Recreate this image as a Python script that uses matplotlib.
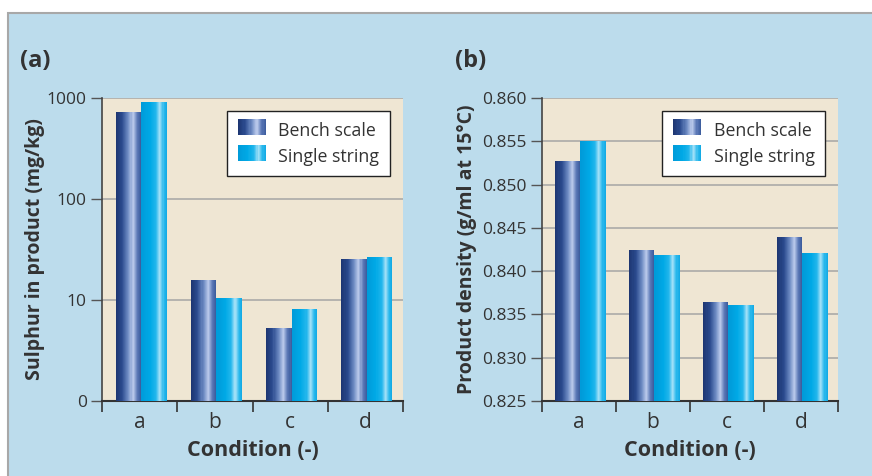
import numpy as np
import matplotlib
matplotlib.use("Agg")
import matplotlib.pyplot as plt
from matplotlib.patches import Rectangle
from matplotlib.legend_handler import HandlerBase
from matplotlib.colors import LinearSegmentedColormap

categories = ["a", "b", "c", "d"]
series_names = ["Bench scale", "Single string"]
sulphur_bench = [731, 15.9, 5.3, 25.5]
sulphur_single = [906, 10.4, 8.1, 26.7]
density_bench = [0.8527, 0.8424, 0.8364, 0.8439]
density_single = [0.8550, 0.8419, 0.8361, 0.8421]
sulphur_ticks = [1, 10, 100, 1000]
sulphur_ticklabels = ["0", "10", "100", "1000"]
density_ticks = [0.825, 0.830, 0.835, 0.840, 0.845, 0.850, 0.855, 0.860]

plt.rcParams['font.family'] = ['Open Sans', 'DejaVu Sans']
TXT = '#333333'

bench_cmap = LinearSegmentedColormap.from_list('bench', [
    (0.0, '#1c3470'), (0.25, '#2a4a8e'), (0.5, '#6f8cc4'), (0.68, '#bccbec'),
    (0.85, '#5b78b6'), (1.0, '#3a5a9c')])
single_cmap = LinearSegmentedColormap.from_list('single', [
    (0.0, '#009ad8'), (0.35, '#00a9e6'), (0.58, '#22b6ec'), (0.74, '#a6e2f8'),
    (0.88, '#2ab8ec'), (1.0, '#10a8e4')])
NSTRIP = 24

fig = plt.figure(figsize=(8.72, 4.76), dpi=100)
fig.patch.set_facecolor('white')
bg = Rectangle((7.5 / 872, -0.1), 1.2, (476 - 12.5) / 476 + 0.1, transform=fig.transFigure,
               facecolor='#bcdcec', edgecolor='#a8a8a8', linewidth=1.5, zorder=-10)
fig.patches.append(bg)


class GradHandler(HandlerBase):
    def __init__(self, cmap):
        super().__init__()
        self.cmap = cmap

    def create_artists(self, legend, orig_handle, xdescent, ydescent, width, height, fontsize, trans):
        arts = []
        for i in range(NSTRIP):
            r = Rectangle((xdescent + width * i / NSTRIP, ydescent - 0.05 * height), width / NSTRIP * 1.05,
                          height * 1.1, facecolor=self.cmap((i + 0.5) / NSTRIP), edgecolor='none',
                          transform=trans)
            arts.append(r)
        return arts


def grad_bars(ax, xs, vals, width, cmap, bottom):
    for x, v in zip(xs, vals):
        for i in range(NSTRIP):
            ax.bar(x - width / 2 + width * (i + 0.5) / NSTRIP, v - bottom, width=width / NSTRIP * 1.02,
                   bottom=bottom, color=cmap((i + 0.5) / NSTRIP), edgecolor='none', zorder=3)


def setup(ax, bench, single, bottom, ylabel, ylabelpad):
    ax.set_facecolor('#efe6d3')
    xs = np.arange(len(categories))
    w = 0.34
    grad_bars(ax, xs - w / 2 + 0.02, bench, w, bench_cmap, bottom)
    grad_bars(ax, xs + w / 2 + 0.02, single, w, single_cmap, bottom)
    ax.set_xlim(-0.5, len(categories) - 0.5)
    ax.set_xticks(np.arange(-0.5, len(categories), 1.0))
    ax.set_xticklabels([])
    ax.set_xticks(xs, minor=True)
    ax.set_xticklabels(categories, minor=True, fontsize=15, color=TXT)
    ax.tick_params(axis='x', which='major', direction='out', length=8, width=1.2, color='#333333')
    ax.tick_params(axis='x', which='minor', length=0, pad=8)
    ax.tick_params(axis='y', direction='out', length=8, width=1, color='#555555', labelsize=12.5,
                   labelcolor=TXT, pad=3)
    ax.yaxis.grid(True, color='#a5a5a5', linewidth=1.1, zorder=1)
    ax.set_axisbelow(True)
    for s in ['top', 'right']:
        ax.spines[s].set_visible(False)
    ax.spines['left'].set_color('#444444')
    ax.spines['bottom'].set_color('#333333')
    ax.spines['left'].set_linewidth(1.2)
    ax.spines['bottom'].set_linewidth(1.5)
    ax.set_xlabel('Condition (-)', fontsize=15.5, fontweight='bold', color=TXT, labelpad=5)
    ax.set_ylabel(ylabel, fontsize=14, fontweight='bold', color=TXT, labelpad=ylabelpad)
    h1 = Rectangle((0, 0), 1, 1)
    h2 = Rectangle((0, 0), 1, 1)
    leg = ax.legend([h1, h2], series_names, loc='upper right', bbox_to_anchor=(0.957, 0.957),
                    handler_map={h1: GradHandler(bench_cmap), h2: GradHandler(single_cmap)},
                    fancybox=False, framealpha=1, edgecolor='#222222', fontsize=12.8,
                    handlelength=1.6, handleheight=0.9, handletextpad=0.7, borderpad=0.6,
                    labelspacing=0.45, borderaxespad=0)
    leg.get_frame().set_linewidth(1.0)
    for t in leg.get_texts():
        t.set_color(TXT)


ax1 = fig.add_axes([102 / 872, 1 - 401 / 476, 301 / 872, 303 / 476])
ax1.set_yscale('log')
ax1.set_ylim(1, 1000)
setup(ax1, sulphur_bench, sulphur_single, 1, 'Sulphur in product (mg/kg)', 1)
ax1.set_yticks(sulphur_ticks)
ax1.set_yticklabels(sulphur_ticklabels)
ax1.yaxis.set_minor_locator(matplotlib.ticker.NullLocator())

ax2 = fig.add_axes([542 / 872, 1 - 401 / 476, 296 / 872, 303 / 476])
ax2.set_ylim(0.825, 0.860)
setup(ax2, density_bench, density_single, 0.825, 'Product density (g/ml at 15°C)', 4)
ax2.set_yticks(density_ticks)
ax2.set_yticklabels([f"{t:.3f}" for t in density_ticks])

fig.text(20 / 872, 1 - 61 / 476, '(a)', fontsize=17, fontweight='bold', color=TXT, va='center')
fig.text(455 / 872, 1 - 61 / 476, '(b)', fontsize=17, fontweight='bold', color=TXT, va='center')

fig.savefig('out.png', dpi=100, facecolor=fig.get_facecolor())
